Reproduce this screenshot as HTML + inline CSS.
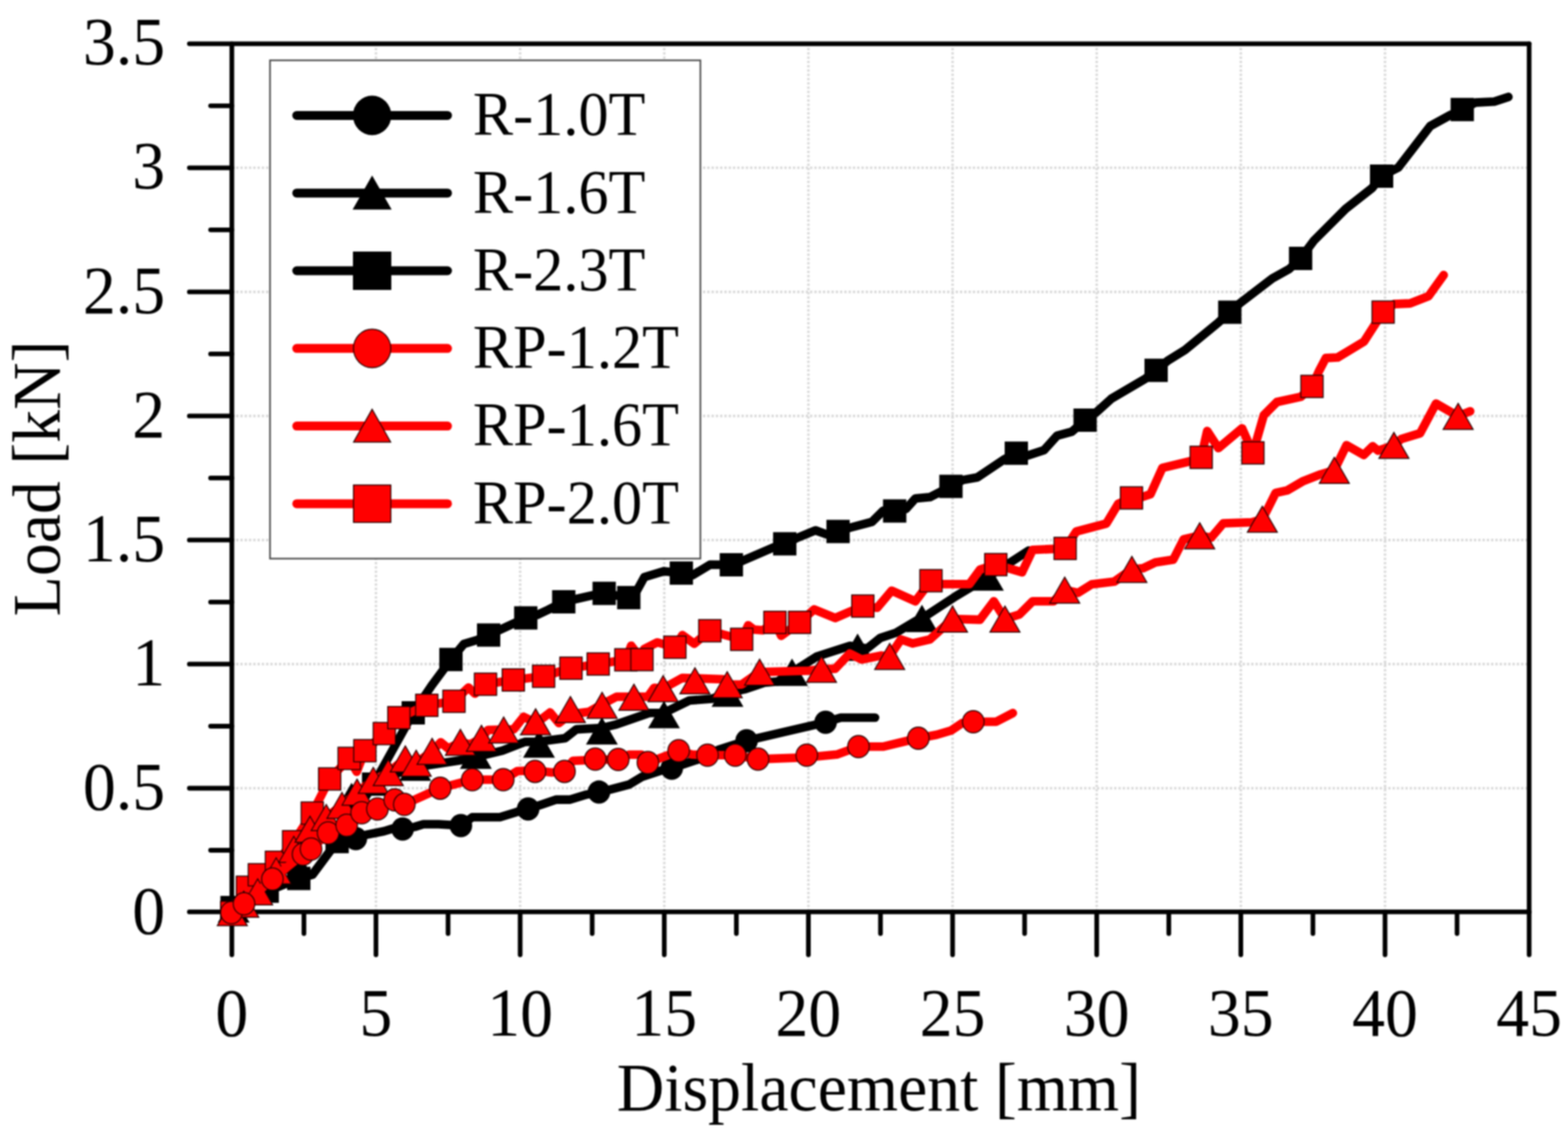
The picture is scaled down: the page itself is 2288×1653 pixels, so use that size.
<!DOCTYPE html>
<html lang="en">
<head>
<meta charset="utf-8">
<title>Load-Displacement</title>
<style>
html,body{margin:0;padding:0;background:#fff;}
body{width:2288px;height:1653px;overflow:hidden;}
svg{display:block;filter:blur(0.9px);}
text{font-family:"Liberation Serif","Times New Roman",serif;fill:#000;}
.tk{font-size:96px;}
.lg{font-size:88px;}
</style>
</head>
<body>
<svg width="2288" height="1653" viewBox="0 0 2288 1653">
<rect x="0" y="0" width="2288" height="1653" fill="#fff"/>
<g id="grid" stroke="#d8d8d8" stroke-width="3.6" stroke-dasharray="3.3 2.95" fill="none">
<line x1="548.6" y1="63.8" x2="548.6" y2="1331.0"/>
<line x1="759.0" y1="63.8" x2="759.0" y2="1331.0"/>
<line x1="969.3" y1="63.8" x2="969.3" y2="1331.0"/>
<line x1="1179.6" y1="63.8" x2="1179.6" y2="1331.0"/>
<line x1="1390.0" y1="63.8" x2="1390.0" y2="1331.0"/>
<line x1="1600.3" y1="63.8" x2="1600.3" y2="1331.0"/>
<line x1="1810.6" y1="63.8" x2="1810.6" y2="1331.0"/>
<line x1="2021.0" y1="63.8" x2="2021.0" y2="1331.0"/>
<line x1="338.3" y1="1150.0" x2="2231.3" y2="1150.0"/>
<line x1="338.3" y1="968.9" x2="2231.3" y2="968.9"/>
<line x1="338.3" y1="787.9" x2="2231.3" y2="787.9"/>
<line x1="338.3" y1="606.9" x2="2231.3" y2="606.9"/>
<line x1="338.3" y1="425.9" x2="2231.3" y2="425.9"/>
<line x1="338.3" y1="244.8" x2="2231.3" y2="244.8"/>
</g>
<g id="axes" stroke="#000" stroke-width="6.8" stroke-linecap="round" fill="none">
<line x1="276.3" y1="63.8" x2="2231.3" y2="63.8"/>
<line x1="2231.3" y1="63.8" x2="2231.3" y2="1331.0"/>
<line x1="276.3" y1="1330.4" x2="2231.3" y2="1330.4"/>
<line x1="338.3" y1="63.8" x2="338.3" y2="1393.0"/>
<line x1="548.6" y1="1331.0" x2="548.6" y2="1393.0"/>
<line x1="759.0" y1="1331.0" x2="759.0" y2="1393.0"/>
<line x1="969.3" y1="1331.0" x2="969.3" y2="1393.0"/>
<line x1="1179.6" y1="1331.0" x2="1179.6" y2="1393.0"/>
<line x1="1390.0" y1="1331.0" x2="1390.0" y2="1393.0"/>
<line x1="1600.3" y1="1331.0" x2="1600.3" y2="1393.0"/>
<line x1="1810.6" y1="1331.0" x2="1810.6" y2="1393.0"/>
<line x1="2021.0" y1="1331.0" x2="2021.0" y2="1393.0"/>
<line x1="2231.3" y1="1331.0" x2="2231.3" y2="1393.0"/>
<line x1="443.5" y1="1331.0" x2="443.5" y2="1362.0"/>
<line x1="653.8" y1="1331.0" x2="653.8" y2="1362.0"/>
<line x1="864.1" y1="1331.0" x2="864.1" y2="1362.0"/>
<line x1="1074.5" y1="1331.0" x2="1074.5" y2="1362.0"/>
<line x1="1284.8" y1="1331.0" x2="1284.8" y2="1362.0"/>
<line x1="1495.1" y1="1331.0" x2="1495.1" y2="1362.0"/>
<line x1="1705.5" y1="1331.0" x2="1705.5" y2="1362.0"/>
<line x1="1915.8" y1="1331.0" x2="1915.8" y2="1362.0"/>
<line x1="2126.1" y1="1331.0" x2="2126.1" y2="1362.0"/>
<line x1="276.3" y1="1150.0" x2="338.3" y2="1150.0"/>
<line x1="276.3" y1="968.9" x2="338.3" y2="968.9"/>
<line x1="276.3" y1="787.9" x2="338.3" y2="787.9"/>
<line x1="276.3" y1="606.9" x2="338.3" y2="606.9"/>
<line x1="276.3" y1="425.9" x2="338.3" y2="425.9"/>
<line x1="276.3" y1="244.8" x2="338.3" y2="244.8"/>
<line x1="307.3" y1="1240.5" x2="338.3" y2="1240.5"/>
<line x1="307.3" y1="1059.5" x2="338.3" y2="1059.5"/>
<line x1="307.3" y1="878.4" x2="338.3" y2="878.4"/>
<line x1="307.3" y1="697.4" x2="338.3" y2="697.4"/>
<line x1="307.3" y1="516.4" x2="338.3" y2="516.4"/>
<line x1="307.3" y1="335.3" x2="338.3" y2="335.3"/>
<line x1="307.3" y1="154.3" x2="338.3" y2="154.3"/>
</g>
<g id="s-R-1.0T">
<polyline points="338.0,1331.0 389.9,1300.2 436.0,1281.6 456.0,1276.0 491.9,1227.8 519.2,1223.5 534.5,1217.9 560.2,1212.8 573.0,1208.9 587.5,1209.5 605.0,1206.4 617.8,1202.5 640.0,1202.5 672.5,1204.5 689.2,1192.2 729.4,1192.2 753.2,1184.9 770.6,1180.3 789.8,1173.9 811.8,1166.6 832.0,1166.6 855.7,1159.3 874.0,1155.6 890.5,1151.9 918.0,1144.6 936.3,1133.6 963.8,1124.5 980.2,1120.8 1000.4,1114.0 1027.8,1105.0 1048.0,1094.1 1089.4,1080.7 1204.7,1053.8 1226.8,1047.0 1276.8,1047.0" fill="none" stroke="#000" stroke-width="12.6" stroke-linejoin="round" stroke-linecap="round"/>
<ellipse cx="338.0" cy="1331.0" rx="16.50" ry="17.00" fill="#000"/>
<ellipse cx="436.0" cy="1281.0" rx="16.50" ry="17.00" fill="#000"/>
<ellipse cx="519.2" cy="1223.5" rx="16.50" ry="17.00" fill="#000"/>
<ellipse cx="587.5" cy="1209.5" rx="16.50" ry="17.00" fill="#000"/>
<ellipse cx="672.5" cy="1204.5" rx="16.50" ry="17.00" fill="#000"/>
<ellipse cx="770.6" cy="1180.3" rx="16.50" ry="17.00" fill="#000"/>
<ellipse cx="874.0" cy="1155.6" rx="16.50" ry="17.00" fill="#000"/>
<ellipse cx="980.2" cy="1120.8" rx="16.50" ry="17.00" fill="#000"/>
<ellipse cx="1089.4" cy="1080.7" rx="16.50" ry="17.00" fill="#000"/>
<ellipse cx="1204.7" cy="1053.8" rx="16.50" ry="17.00" fill="#000"/>
</g>
<g id="s-R-1.6T">
<polyline points="341.0,1326.0 425.0,1245.0 513.0,1162.0 560.0,1135.0 605.9,1119.3 680.0,1108.0 733.1,1095.2 766.0,1082.4 786.5,1082.0 824.6,1076.9 841.1,1064.1 878.3,1062.0 899.7,1056.8 947.3,1040.3 968.9,1040.0 1005.9,1022.0 1038.8,1019.5 1061.6,1011.2 1086.5,1005.7 1115.3,996.1 1134.5,994.2 1155.7,980.7 1192.2,957.7 1240.3,942.3 1251.4,944.3 1265.2,946.1 1284.5,930.8 1307.5,923.1 1336.4,905.8 1345.3,902.2 1395.3,869.5 1441.5,841.8 1501.0,803.2" fill="none" stroke="#000" stroke-width="12.6" stroke-linejoin="round" stroke-linecap="round"/>
<polygon points="341.0,1306.0 364.2,1346.0 317.8,1346.0" fill="#000"/>
<polygon points="425.0,1225.0 448.2,1265.0 401.8,1265.0" fill="#000"/>
<polygon points="513.0,1142.0 536.2,1182.0 489.8,1182.0" fill="#000"/>
<polygon points="605.9,1099.3 629.1,1139.3 582.6,1139.3" fill="#000"/>
<polygon points="694.4,1081.8 717.6,1121.8 671.1,1121.8" fill="#000"/>
<polygon points="786.5,1065.5 809.8,1105.5 763.2,1105.5" fill="#000"/>
<polygon points="878.3,1046.3 901.5,1086.3 855.0,1086.3" fill="#000"/>
<polygon points="968.9,1022.5 992.1,1062.5 945.6,1062.5" fill="#000"/>
<polygon points="1061.6,991.2 1084.8,1031.2 1038.3,1031.2" fill="#000"/>
<polygon points="1155.7,960.7 1179.0,1000.7 1132.5,1000.7" fill="#000"/>
<polygon points="1251.4,924.3 1274.7,964.3 1228.2,964.3" fill="#000"/>
<polygon points="1345.3,882.2 1368.5,922.2 1322.0,922.2" fill="#000"/>
<polygon points="1441.5,821.8 1464.8,861.8 1418.2,861.8" fill="#000"/>
</g>
<g id="s-R-2.3T">
<polyline points="338.6,1324.1 389.9,1300.2 436.0,1281.6 456.0,1276.0 491.9,1227.8 545.2,1144.0 603.0,1040.0 630.0,1000.0 658.0,962.2 676.9,939.5 696.1,933.8 713.0,926.5 767.2,901.5 783.6,897.2 799.9,889.6 822.6,878.0 865.2,868.4 881.6,865.7 917.5,871.9 926.7,866.5 940.2,842.0 960.0,836.0 969.0,833.4 994.2,836.1 1010.7,839.2 1036.1,823.8 1067.2,824.0 1083.8,818.0 1128.4,798.8 1145.1,793.4 1162.0,785.3 1189.9,773.8 1206.2,779.6 1222.9,775.4 1239.8,770.0 1272.5,761.3 1288.9,745.0 1305.5,745.5 1321.9,742.6 1335.7,727.3 1356.9,725.3 1387.6,709.6 1404.5,700.4 1426.1,696.5 1466.4,669.6 1483.0,661.2 1499.8,664.5 1523.4,656.8 1542.6,635.6 1563.8,629.9 1583.4,613.0 1600.3,601.0 1621.5,581.8 1670.5,553.0 1687.0,540.3 1704.1,526.1 1729.1,510.7 1778.1,470.3 1794.5,455.5 1809.8,442.0 1856.5,406.3 1881.2,392.5 1897.8,377.0 1916.9,351.4 1963.5,304.7 2002.0,274.5 2016.0,257.0 2040.4,244.3 2087.0,183.9 2117.2,167.4 2133.7,159.8 2152.9,149.6 2180.4,148.2 2201.0,141.4" fill="none" stroke="#000" stroke-width="12.6" stroke-linejoin="round" stroke-linecap="round"/>
<rect x="321.6" y="1307.1" width="34.0" height="34.0" fill="#000"/>
<rect x="372.9" y="1283.2" width="34.0" height="34.0" fill="#000"/>
<rect x="419.0" y="1264.6" width="34.0" height="34.0" fill="#000"/>
<rect x="474.9" y="1210.8" width="34.0" height="34.0" fill="#000"/>
<rect x="528.2" y="1127.0" width="34.0" height="34.0" fill="#000"/>
<rect x="586.0" y="1023.0" width="34.0" height="34.0" fill="#000"/>
<rect x="641.0" y="945.2" width="34.0" height="34.0" fill="#000"/>
<rect x="696.0" y="909.5" width="34.0" height="34.0" fill="#000"/>
<rect x="750.2" y="884.5" width="34.0" height="34.0" fill="#000"/>
<rect x="805.6" y="861.0" width="34.0" height="34.0" fill="#000"/>
<rect x="864.6" y="848.7" width="34.0" height="34.0" fill="#000"/>
<rect x="900.5" y="854.9" width="34.0" height="34.0" fill="#000"/>
<rect x="977.2" y="819.1" width="34.0" height="34.0" fill="#000"/>
<rect x="1050.2" y="807.0" width="34.0" height="34.0" fill="#000"/>
<rect x="1128.1" y="776.4" width="34.0" height="34.0" fill="#000"/>
<rect x="1205.9" y="758.4" width="34.0" height="34.0" fill="#000"/>
<rect x="1288.5" y="728.5" width="34.0" height="34.0" fill="#000"/>
<rect x="1370.6" y="692.6" width="34.0" height="34.0" fill="#000"/>
<rect x="1466.0" y="644.2" width="34.0" height="34.0" fill="#000"/>
<rect x="1566.4" y="596.0" width="34.0" height="34.0" fill="#000"/>
<rect x="1670.0" y="523.3" width="34.0" height="34.0" fill="#000"/>
<rect x="1777.5" y="438.5" width="34.0" height="34.0" fill="#000"/>
<rect x="1880.8" y="360.0" width="34.0" height="34.0" fill="#000"/>
<rect x="1999.0" y="240.0" width="34.0" height="34.0" fill="#000"/>
<rect x="2116.7" y="142.8" width="34.0" height="34.0" fill="#000"/>
</g>
<g id="s-RP-2.0T">
<polyline points="338.0,1331.2 361.0,1294.5 378.5,1276.3 403.3,1258.0 428.5,1228.0 455.7,1186.2 481.0,1136.5 509.5,1106.5 520.5,1126.0 532.5,1095.3 560.8,1070.3 582.0,1047.0 622.7,1029.0 662.5,1023.1 683.6,1003.0 693.0,1012.0 708.5,998.3 749.0,992.0 793.2,986.6 833.1,974.9 872.9,968.7 913.3,962.6 921.0,942.0 936.7,962.4 940.0,946.8 959.2,937.2 984.8,944.3 995.7,926.6 1013.0,939.1 1035.7,920.3 1055.3,925.7 1082.2,932.8 1091.8,912.2 1100.0,918.5 1113.0,919.5 1130.7,908.0 1139.9,927.6 1166.8,908.0 1187.9,889.1 1218.7,901.6 1259.1,884.3 1280.0,886.8 1301.1,861.8 1335.7,877.2 1358.4,847.2 1374.6,852.2 1414.5,852.2 1429.9,831.1 1453.0,823.8 1491.4,834.9 1506.8,802.2 1554.3,800.1 1570.6,775.3 1614.4,763.8 1631.7,735.0 1651.0,726.5 1667.3,724.9 1678.8,721.0 1696.1,682.6 1736.5,673.0 1752.8,667.2 1761.5,628.8 1777.8,653.8 1812.4,624.9 1828.3,660.7 1844.1,605.7 1863.3,586.5 1898.3,578.8 1914.5,563.8 1925.0,540.7 1934.6,522.4 1951.9,521.5 1990.3,498.4 2007.6,471.5 2018.2,455.3 2034.5,443.6 2057.6,442.6 2084.5,432.1 2106.6,401.3" fill="none" stroke="#ff0000" stroke-width="12.6" stroke-linejoin="round" stroke-linecap="round"/>
<rect x="321.8" y="1315.0" width="32.5" height="32.5" fill="#ff0000" stroke="#200000" stroke-width="1.5" stroke-linejoin="miter"/>
<rect x="344.8" y="1278.2" width="32.5" height="32.5" fill="#ff0000" stroke="#200000" stroke-width="1.5" stroke-linejoin="miter"/>
<rect x="362.2" y="1260.0" width="32.5" height="32.5" fill="#ff0000" stroke="#200000" stroke-width="1.5" stroke-linejoin="miter"/>
<rect x="387.1" y="1241.8" width="32.5" height="32.5" fill="#ff0000" stroke="#200000" stroke-width="1.5" stroke-linejoin="miter"/>
<rect x="412.2" y="1211.8" width="32.5" height="32.5" fill="#ff0000" stroke="#200000" stroke-width="1.5" stroke-linejoin="miter"/>
<rect x="439.4" y="1170.0" width="32.5" height="32.5" fill="#ff0000" stroke="#200000" stroke-width="1.5" stroke-linejoin="miter"/>
<rect x="464.8" y="1120.2" width="32.5" height="32.5" fill="#ff0000" stroke="#200000" stroke-width="1.5" stroke-linejoin="miter"/>
<rect x="493.2" y="1090.2" width="32.5" height="32.5" fill="#ff0000" stroke="#200000" stroke-width="1.5" stroke-linejoin="miter"/>
<rect x="516.2" y="1079.0" width="32.5" height="32.5" fill="#ff0000" stroke="#200000" stroke-width="1.5" stroke-linejoin="miter"/>
<rect x="544.5" y="1054.0" width="32.5" height="32.5" fill="#ff0000" stroke="#200000" stroke-width="1.5" stroke-linejoin="miter"/>
<rect x="565.8" y="1030.8" width="32.5" height="32.5" fill="#ff0000" stroke="#200000" stroke-width="1.5" stroke-linejoin="miter"/>
<rect x="606.5" y="1012.8" width="32.5" height="32.5" fill="#ff0000" stroke="#200000" stroke-width="1.5" stroke-linejoin="miter"/>
<rect x="646.2" y="1006.9" width="32.5" height="32.5" fill="#ff0000" stroke="#200000" stroke-width="1.5" stroke-linejoin="miter"/>
<rect x="692.2" y="982.0" width="32.5" height="32.5" fill="#ff0000" stroke="#200000" stroke-width="1.5" stroke-linejoin="miter"/>
<rect x="732.8" y="975.8" width="32.5" height="32.5" fill="#ff0000" stroke="#200000" stroke-width="1.5" stroke-linejoin="miter"/>
<rect x="777.0" y="970.4" width="32.5" height="32.5" fill="#ff0000" stroke="#200000" stroke-width="1.5" stroke-linejoin="miter"/>
<rect x="816.9" y="958.6" width="32.5" height="32.5" fill="#ff0000" stroke="#200000" stroke-width="1.5" stroke-linejoin="miter"/>
<rect x="856.6" y="952.5" width="32.5" height="32.5" fill="#ff0000" stroke="#200000" stroke-width="1.5" stroke-linejoin="miter"/>
<rect x="897.0" y="946.4" width="32.5" height="32.5" fill="#ff0000" stroke="#200000" stroke-width="1.5" stroke-linejoin="miter"/>
<rect x="920.5" y="946.1" width="32.5" height="32.5" fill="#ff0000" stroke="#200000" stroke-width="1.5" stroke-linejoin="miter"/>
<rect x="968.5" y="928.0" width="32.5" height="32.5" fill="#ff0000" stroke="#200000" stroke-width="1.5" stroke-linejoin="miter"/>
<rect x="1019.5" y="904.0" width="32.5" height="32.5" fill="#ff0000" stroke="#200000" stroke-width="1.5" stroke-linejoin="miter"/>
<rect x="1066.0" y="916.5" width="32.5" height="32.5" fill="#ff0000" stroke="#200000" stroke-width="1.5" stroke-linejoin="miter"/>
<rect x="1114.5" y="891.8" width="32.5" height="32.5" fill="#ff0000" stroke="#200000" stroke-width="1.5" stroke-linejoin="miter"/>
<rect x="1150.5" y="891.8" width="32.5" height="32.5" fill="#ff0000" stroke="#200000" stroke-width="1.5" stroke-linejoin="miter"/>
<rect x="1242.8" y="868.0" width="32.5" height="32.5" fill="#ff0000" stroke="#200000" stroke-width="1.5" stroke-linejoin="miter"/>
<rect x="1342.2" y="831.0" width="32.5" height="32.5" fill="#ff0000" stroke="#200000" stroke-width="1.5" stroke-linejoin="miter"/>
<rect x="1436.8" y="807.5" width="32.5" height="32.5" fill="#ff0000" stroke="#200000" stroke-width="1.5" stroke-linejoin="miter"/>
<rect x="1538.0" y="783.9" width="32.5" height="32.5" fill="#ff0000" stroke="#200000" stroke-width="1.5" stroke-linejoin="miter"/>
<rect x="1634.8" y="710.2" width="32.5" height="32.5" fill="#ff0000" stroke="#200000" stroke-width="1.5" stroke-linejoin="miter"/>
<rect x="1736.5" y="651.0" width="32.5" height="32.5" fill="#ff0000" stroke="#200000" stroke-width="1.5" stroke-linejoin="miter"/>
<rect x="1812.0" y="644.5" width="32.5" height="32.5" fill="#ff0000" stroke="#200000" stroke-width="1.5" stroke-linejoin="miter"/>
<rect x="1898.2" y="547.5" width="32.5" height="32.5" fill="#ff0000" stroke="#200000" stroke-width="1.5" stroke-linejoin="miter"/>
<rect x="2002.0" y="439.1" width="32.5" height="32.5" fill="#ff0000" stroke="#200000" stroke-width="1.5" stroke-linejoin="miter"/>
</g>
<g id="s-RP-1.6T">
<polyline points="339.0,1331.2 355.7,1319.0 376.0,1301.0 403.0,1270.3 428.7,1239.0 452.4,1209.6 476.0,1192.5 499.0,1174.8 521.0,1155.5 544.7,1138.3 566.6,1127.0 591.4,1107.0 607.3,1113.3 630.5,1096.0 643.0,1083.0 654.0,1092.0 671.8,1082.8 686.0,1086.0 702.5,1077.0 712.0,1065.0 749.6,1064.0 764.2,1045.8 782.5,1054.9 802.7,1039.4 815.5,1054.9 832.0,1042.1 859.4,1038.4 878.6,1027.5 899.7,1016.5 945.4,1016.5 954.6,1003.5 967.6,1004.5 995.7,989.1 1055.3,991.0 1061.1,998.7 1082.2,998.7 1108.4,980.5 1180.0,978.5 1198.7,976.2 1218.7,975.6 1239.8,953.5 1257.1,962.2 1286.0,956.4 1298.2,957.5 1314.6,932.9 1331.9,938.7 1356.9,932.9 1389.9,903.0 1429.9,904.1 1450.1,877.2 1466.4,903.0 1487.6,896.4 1506.8,877.2 1537.6,877.2 1553.6,860.7 1573.0,865.0 1593.0,852.5 1626.0,848.5 1651.6,830.5 1668.0,829.0 1686.0,820.5 1712.0,816.5 1727.0,787.0 1750.6,781.5 1767.2,784.5 1785.0,763.5 1826.8,762.0 1841.8,757.4 1848.0,746.0 1861.4,719.1 1878.7,715.3 1901.8,701.8 1926.7,692.2 1947.0,686.0 1964.8,649.5 1990.0,663.7 2003.0,651.0 2010.8,657.5 2034.0,649.6 2044.7,640.5 2072.2,632.1 2095.4,588.7 2127.7,607.2 2145.2,600.0" fill="none" stroke="#ff0000" stroke-width="12.6" stroke-linejoin="round" stroke-linecap="round"/>
<polygon points="339.0,1312.4 360.9,1350.4 317.1,1350.4" fill="#ff0000" stroke="#200000" stroke-width="1.5" stroke-linejoin="miter"/>
<polygon points="355.7,1300.2 377.6,1338.2 333.8,1338.2" fill="#ff0000" stroke="#200000" stroke-width="1.5" stroke-linejoin="miter"/>
<polygon points="376.0,1282.2 397.9,1320.2 354.1,1320.2" fill="#ff0000" stroke="#200000" stroke-width="1.5" stroke-linejoin="miter"/>
<polygon points="403.0,1251.5 424.9,1289.5 381.1,1289.5" fill="#ff0000" stroke="#200000" stroke-width="1.5" stroke-linejoin="miter"/>
<polygon points="428.7,1220.2 450.6,1258.2 406.8,1258.2" fill="#ff0000" stroke="#200000" stroke-width="1.5" stroke-linejoin="miter"/>
<polygon points="452.4,1190.8 474.3,1228.8 430.5,1228.8" fill="#ff0000" stroke="#200000" stroke-width="1.5" stroke-linejoin="miter"/>
<polygon points="476.0,1173.7 497.9,1211.7 454.1,1211.7" fill="#ff0000" stroke="#200000" stroke-width="1.5" stroke-linejoin="miter"/>
<polygon points="499.0,1156.0 520.9,1194.0 477.1,1194.0" fill="#ff0000" stroke="#200000" stroke-width="1.5" stroke-linejoin="miter"/>
<polygon points="521.0,1136.7 542.9,1174.7 499.1,1174.7" fill="#ff0000" stroke="#200000" stroke-width="1.5" stroke-linejoin="miter"/>
<polygon points="544.7,1119.5 566.6,1157.5 522.8,1157.5" fill="#ff0000" stroke="#200000" stroke-width="1.5" stroke-linejoin="miter"/>
<polygon points="566.6,1108.2 588.5,1146.2 544.7,1146.2" fill="#ff0000" stroke="#200000" stroke-width="1.5" stroke-linejoin="miter"/>
<polygon points="591.4,1088.2 613.3,1126.2 569.5,1126.2" fill="#ff0000" stroke="#200000" stroke-width="1.5" stroke-linejoin="miter"/>
<polygon points="607.3,1094.5 629.2,1132.5 585.4,1132.5" fill="#ff0000" stroke="#200000" stroke-width="1.5" stroke-linejoin="miter"/>
<polygon points="630.5,1077.2 652.4,1115.2 608.6,1115.2" fill="#ff0000" stroke="#200000" stroke-width="1.5" stroke-linejoin="miter"/>
<polygon points="671.8,1064.0 693.7,1102.0 649.9,1102.0" fill="#ff0000" stroke="#200000" stroke-width="1.5" stroke-linejoin="miter"/>
<polygon points="702.5,1058.2 724.4,1096.2 680.6,1096.2" fill="#ff0000" stroke="#200000" stroke-width="1.5" stroke-linejoin="miter"/>
<polygon points="735.0,1046.0 756.9,1084.0 713.1,1084.0" fill="#ff0000" stroke="#200000" stroke-width="1.5" stroke-linejoin="miter"/>
<polygon points="781.6,1034.1 803.5,1072.1 759.7,1072.1" fill="#ff0000" stroke="#200000" stroke-width="1.5" stroke-linejoin="miter"/>
<polygon points="832.3,1016.2 854.2,1054.2 810.4,1054.2" fill="#ff0000" stroke="#200000" stroke-width="1.5" stroke-linejoin="miter"/>
<polygon points="878.6,1010.0 900.5,1048.0 856.7,1048.0" fill="#ff0000" stroke="#200000" stroke-width="1.5" stroke-linejoin="miter"/>
<polygon points="925.0,998.2 946.9,1036.2 903.1,1036.2" fill="#ff0000" stroke="#200000" stroke-width="1.5" stroke-linejoin="miter"/>
<polygon points="967.6,985.7 989.5,1023.7 945.7,1023.7" fill="#ff0000" stroke="#200000" stroke-width="1.5" stroke-linejoin="miter"/>
<polygon points="1014.0,974.2 1035.9,1012.2 992.1,1012.2" fill="#ff0000" stroke="#200000" stroke-width="1.5" stroke-linejoin="miter"/>
<polygon points="1061.1,979.9 1083.0,1017.9 1039.2,1017.9" fill="#ff0000" stroke="#200000" stroke-width="1.5" stroke-linejoin="miter"/>
<polygon points="1108.4,961.7 1130.3,999.7 1086.5,999.7" fill="#ff0000" stroke="#200000" stroke-width="1.5" stroke-linejoin="miter"/>
<polygon points="1198.7,957.4 1220.6,995.4 1176.8,995.4" fill="#ff0000" stroke="#200000" stroke-width="1.5" stroke-linejoin="miter"/>
<polygon points="1298.2,938.7 1320.1,976.7 1276.3,976.7" fill="#ff0000" stroke="#200000" stroke-width="1.5" stroke-linejoin="miter"/>
<polygon points="1389.9,884.2 1411.8,922.2 1368.0,922.2" fill="#ff0000" stroke="#200000" stroke-width="1.5" stroke-linejoin="miter"/>
<polygon points="1466.4,884.2 1488.3,922.2 1444.5,922.2" fill="#ff0000" stroke="#200000" stroke-width="1.5" stroke-linejoin="miter"/>
<polygon points="1553.6,841.9 1575.5,879.9 1531.7,879.9" fill="#ff0000" stroke="#200000" stroke-width="1.5" stroke-linejoin="miter"/>
<polygon points="1651.6,811.7 1673.5,849.7 1629.7,849.7" fill="#ff0000" stroke="#200000" stroke-width="1.5" stroke-linejoin="miter"/>
<polygon points="1750.6,762.7 1772.5,800.7 1728.7,800.7" fill="#ff0000" stroke="#200000" stroke-width="1.5" stroke-linejoin="miter"/>
<polygon points="1842.0,738.6 1863.9,776.6 1820.1,776.6" fill="#ff0000" stroke="#200000" stroke-width="1.5" stroke-linejoin="miter"/>
<polygon points="1947.0,667.2 1968.9,705.2 1925.1,705.2" fill="#ff0000" stroke="#200000" stroke-width="1.5" stroke-linejoin="miter"/>
<polygon points="2034.0,630.8 2055.9,668.8 2012.1,668.8" fill="#ff0000" stroke="#200000" stroke-width="1.5" stroke-linejoin="miter"/>
<polygon points="2127.7,588.4 2149.6,626.4 2105.8,626.4" fill="#ff0000" stroke="#200000" stroke-width="1.5" stroke-linejoin="miter"/>
</g>
<g id="s-RP-1.2T">
<polyline points="337.6,1331.5 356.1,1318.6 397.5,1282.6 442.2,1246.2 453.9,1238.7 478.8,1215.2 505.9,1204.0 527.7,1185.8 550.8,1180.2 576.0,1167.0 590.0,1173.6 642.3,1149.9 689.1,1137.5 734.3,1137.5 755.0,1125.0 780.7,1124.0 805.0,1127.0 823.7,1125.4 836.0,1110.0 868.6,1108.5 902.1,1108.0 918.0,1101.0 936.0,1101.0 945.4,1112.6 972.9,1102.5 990.3,1095.2 1009.5,1100.7 1032.4,1101.7 1072.8,1101.7 1106.1,1107.6 1177.2,1105.0 1221.0,1100.8 1252.7,1089.3 1288.3,1089.3 1340.0,1077.0 1366.8,1072.0 1387.9,1065.7 1404.0,1055.0 1420.2,1053.0 1453.5,1053.0 1477.9,1040.3" fill="none" stroke="#ff0000" stroke-width="12.6" stroke-linejoin="round" stroke-linecap="round"/>
<ellipse cx="337.6" cy="1331.5" rx="15.75" ry="16.25" fill="#ff0000" stroke="#200000" stroke-width="1.5" stroke-linejoin="miter"/>
<ellipse cx="356.1" cy="1318.6" rx="15.75" ry="16.25" fill="#ff0000" stroke="#200000" stroke-width="1.5" stroke-linejoin="miter"/>
<ellipse cx="397.5" cy="1282.6" rx="15.75" ry="16.25" fill="#ff0000" stroke="#200000" stroke-width="1.5" stroke-linejoin="miter"/>
<ellipse cx="442.2" cy="1246.2" rx="15.75" ry="16.25" fill="#ff0000" stroke="#200000" stroke-width="1.5" stroke-linejoin="miter"/>
<ellipse cx="453.9" cy="1238.7" rx="15.75" ry="16.25" fill="#ff0000" stroke="#200000" stroke-width="1.5" stroke-linejoin="miter"/>
<ellipse cx="478.8" cy="1215.2" rx="15.75" ry="16.25" fill="#ff0000" stroke="#200000" stroke-width="1.5" stroke-linejoin="miter"/>
<ellipse cx="505.9" cy="1204.0" rx="15.75" ry="16.25" fill="#ff0000" stroke="#200000" stroke-width="1.5" stroke-linejoin="miter"/>
<ellipse cx="527.7" cy="1185.8" rx="15.75" ry="16.25" fill="#ff0000" stroke="#200000" stroke-width="1.5" stroke-linejoin="miter"/>
<ellipse cx="550.8" cy="1180.2" rx="15.75" ry="16.25" fill="#ff0000" stroke="#200000" stroke-width="1.5" stroke-linejoin="miter"/>
<ellipse cx="576.0" cy="1167.0" rx="15.75" ry="16.25" fill="#ff0000" stroke="#200000" stroke-width="1.5" stroke-linejoin="miter"/>
<ellipse cx="590.0" cy="1173.6" rx="15.75" ry="16.25" fill="#ff0000" stroke="#200000" stroke-width="1.5" stroke-linejoin="miter"/>
<ellipse cx="642.3" cy="1149.9" rx="15.75" ry="16.25" fill="#ff0000" stroke="#200000" stroke-width="1.5" stroke-linejoin="miter"/>
<ellipse cx="689.1" cy="1137.5" rx="15.75" ry="16.25" fill="#ff0000" stroke="#200000" stroke-width="1.5" stroke-linejoin="miter"/>
<ellipse cx="734.3" cy="1137.5" rx="15.75" ry="16.25" fill="#ff0000" stroke="#200000" stroke-width="1.5" stroke-linejoin="miter"/>
<ellipse cx="780.7" cy="1125.4" rx="15.75" ry="16.25" fill="#ff0000" stroke="#200000" stroke-width="1.5" stroke-linejoin="miter"/>
<ellipse cx="823.7" cy="1125.4" rx="15.75" ry="16.25" fill="#ff0000" stroke="#200000" stroke-width="1.5" stroke-linejoin="miter"/>
<ellipse cx="868.6" cy="1107.6" rx="15.75" ry="16.25" fill="#ff0000" stroke="#200000" stroke-width="1.5" stroke-linejoin="miter"/>
<ellipse cx="902.1" cy="1108.0" rx="15.75" ry="16.25" fill="#ff0000" stroke="#200000" stroke-width="1.5" stroke-linejoin="miter"/>
<ellipse cx="945.4" cy="1112.6" rx="15.75" ry="16.25" fill="#ff0000" stroke="#200000" stroke-width="1.5" stroke-linejoin="miter"/>
<ellipse cx="990.3" cy="1095.2" rx="15.75" ry="16.25" fill="#ff0000" stroke="#200000" stroke-width="1.5" stroke-linejoin="miter"/>
<ellipse cx="1032.4" cy="1101.7" rx="15.75" ry="16.25" fill="#ff0000" stroke="#200000" stroke-width="1.5" stroke-linejoin="miter"/>
<ellipse cx="1072.8" cy="1101.7" rx="15.75" ry="16.25" fill="#ff0000" stroke="#200000" stroke-width="1.5" stroke-linejoin="miter"/>
<ellipse cx="1106.1" cy="1107.6" rx="15.75" ry="16.25" fill="#ff0000" stroke="#200000" stroke-width="1.5" stroke-linejoin="miter"/>
<ellipse cx="1177.2" cy="1101.8" rx="15.75" ry="16.25" fill="#ff0000" stroke="#200000" stroke-width="1.5" stroke-linejoin="miter"/>
<ellipse cx="1252.7" cy="1089.3" rx="15.75" ry="16.25" fill="#ff0000" stroke="#200000" stroke-width="1.5" stroke-linejoin="miter"/>
<ellipse cx="1340.0" cy="1077.0" rx="15.75" ry="16.25" fill="#ff0000" stroke="#200000" stroke-width="1.5" stroke-linejoin="miter"/>
<ellipse cx="1420.2" cy="1053.0" rx="15.75" ry="16.25" fill="#ff0000" stroke="#200000" stroke-width="1.5" stroke-linejoin="miter"/>
</g>
<g id="legend">
<rect x="394" y="88" width="628" height="727" fill="#fff" stroke="#4d4d4d" stroke-width="2.4"/>
<line x1="433" y1="168.4" x2="653" y2="168.4" stroke="#000" stroke-width="13" stroke-linecap="round"/>
<ellipse cx="543.0" cy="168.4" rx="28.00" ry="28.84" fill="#000"/>
<text class="lg" transform="translate(690 197.2) scale(1 1.025)">R-1.0T</text>
<line x1="433" y1="281.7" x2="653" y2="281.7" stroke="#000" stroke-width="13" stroke-linecap="round"/>
<polygon points="543.0,256.0 571.5,305.8 514.5,305.8" fill="#000"/>
<text class="lg" transform="translate(690 310.5) scale(1 1.025)">R-1.6T</text>
<line x1="433" y1="395.0" x2="653" y2="395.0" stroke="#000" stroke-width="13" stroke-linecap="round"/>
<rect x="515.0" y="367.0" width="56.0" height="56.0" fill="#000"/>
<text class="lg" transform="translate(690 423.8) scale(1 1.025)">R-2.3T</text>
<line x1="433" y1="508.3" x2="653" y2="508.3" stroke="#ff0000" stroke-width="13" stroke-linecap="round"/>
<ellipse cx="543.0" cy="508.3" rx="27.25" ry="28.09" fill="#ff0000" stroke="#200000" stroke-width="1.5" stroke-linejoin="miter"/>
<text class="lg" transform="translate(690 537.1) scale(1 1.025)">RP-1.2T</text>
<line x1="433" y1="621.6" x2="653" y2="621.6" stroke="#ff0000" stroke-width="13" stroke-linecap="round"/>
<polygon points="543.0,597.1 570.1,645.0 515.9,645.0" fill="#ff0000" stroke="#200000" stroke-width="1.5" stroke-linejoin="miter"/>
<text class="lg" transform="translate(690 650.4) scale(1 1.025)">RP-1.6T</text>
<line x1="433" y1="734.9" x2="653" y2="734.9" stroke="#ff0000" stroke-width="13" stroke-linecap="round"/>
<rect x="515.8" y="707.6" width="54.5" height="54.5" fill="#ff0000" stroke="#200000" stroke-width="1.5" stroke-linejoin="miter"/>
<text class="lg" transform="translate(690 763.7) scale(1 1.025)">RP-2.0T</text>
</g>
<g id="xticks">
<text class="tk" text-anchor="middle" transform="translate(338.3 1511.3) scale(1 1.025)">0</text>
<text class="tk" text-anchor="middle" transform="translate(548.6 1511.3) scale(1 1.025)">5</text>
<text class="tk" text-anchor="middle" transform="translate(759.0 1511.3) scale(1 1.025)">10</text>
<text class="tk" text-anchor="middle" transform="translate(969.3 1511.3) scale(1 1.025)">15</text>
<text class="tk" text-anchor="middle" transform="translate(1179.6 1511.3) scale(1 1.025)">20</text>
<text class="tk" text-anchor="middle" transform="translate(1390.0 1511.3) scale(1 1.025)">25</text>
<text class="tk" text-anchor="middle" transform="translate(1600.3 1511.3) scale(1 1.025)">30</text>
<text class="tk" text-anchor="middle" transform="translate(1810.6 1511.3) scale(1 1.025)">35</text>
<text class="tk" text-anchor="middle" transform="translate(2021.0 1511.3) scale(1 1.025)">40</text>
<text class="tk" text-anchor="middle" transform="translate(2231.3 1511.3) scale(1 1.025)">45</text>
</g>
<g id="yticks">
<text class="tk" text-anchor="end" transform="translate(241.0 1361.6) scale(1 1.025)">0</text>
<text class="tk" text-anchor="end" transform="translate(241.0 1180.6) scale(1 1.025)">0.5</text>
<text class="tk" text-anchor="end" transform="translate(241.0 999.5) scale(1 1.025)">1</text>
<text class="tk" text-anchor="end" transform="translate(241.0 818.5) scale(1 1.025)">1.5</text>
<text class="tk" text-anchor="end" transform="translate(241.0 637.5) scale(1 1.025)">2</text>
<text class="tk" text-anchor="end" transform="translate(241.0 456.5) scale(1 1.025)">2.5</text>
<text class="tk" text-anchor="end" transform="translate(241.0 275.4) scale(1 1.025)">3</text>
<text class="tk" text-anchor="end" transform="translate(241.0 94.4) scale(1 1.025)">3.5</text>
</g>
<text class="tk" text-anchor="middle" transform="translate(1282.5 1619.6) scale(1 1.025)">Displacement [mm]</text>
<text class="tk" text-anchor="middle" transform="translate(86.8 698.0) rotate(-90) scale(1 1.025)">Load [kN]</text>
</svg>
</body>
</html>
